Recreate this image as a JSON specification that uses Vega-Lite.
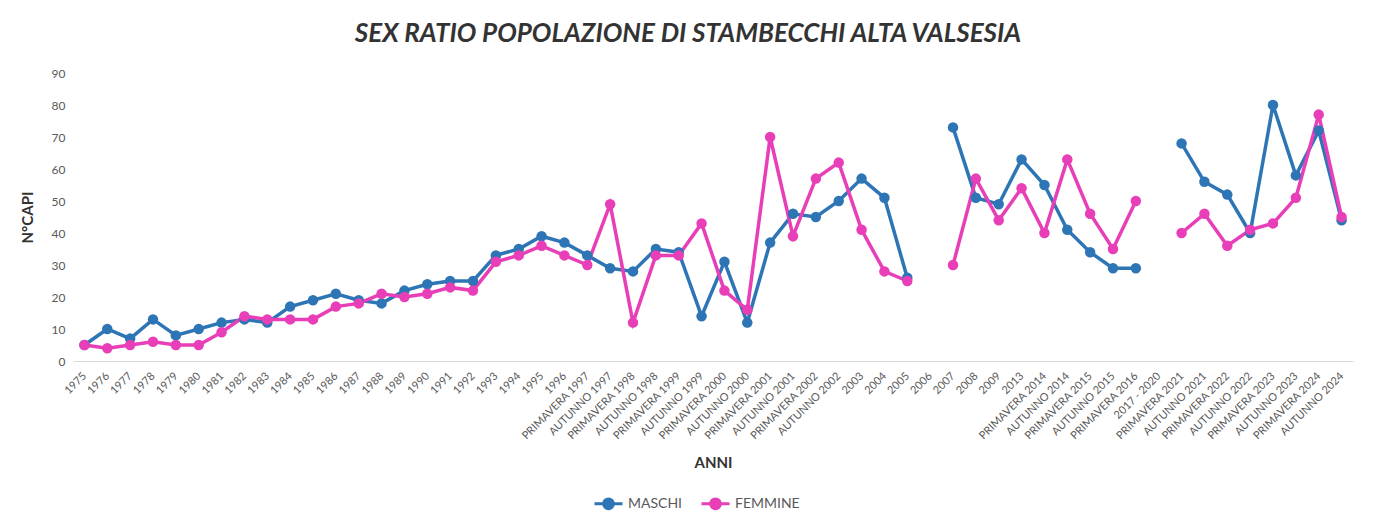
{
  "$schema": "https://vega.github.io/schema/vega-lite/v6.json",
  "width": 1280,
  "height": 288,
  "autosize": {"type": "none"},
  "padding": {"left": 73, "top": 73, "right": 20, "bottom": 157},
  "background": "white",
  "config": {"view": {"stroke": null}, "font": "Lato"},
  "title": {
    "text": "SEX RATIO POPOLAZIONE DI STAMBECCHI ALTA VALSESIA",
    "fontSize": 26,
    "font": "Lato",
    "fontWeight": "bold",
    "fontStyle": "italic",
    "color": "#333333",
    "anchor": "middle",
    "dx": -25,
    "offset": 20
  },
  "datasets": {
    "capi": [
      {"anno": "1975", "serie": "MASCHI", "capi": 5},
      {"anno": "1976", "serie": "MASCHI", "capi": 10},
      {"anno": "1977", "serie": "MASCHI", "capi": 7},
      {"anno": "1978", "serie": "MASCHI", "capi": 13},
      {"anno": "1979", "serie": "MASCHI", "capi": 8},
      {"anno": "1980", "serie": "MASCHI", "capi": 10},
      {"anno": "1981", "serie": "MASCHI", "capi": 12},
      {"anno": "1982", "serie": "MASCHI", "capi": 13},
      {"anno": "1983", "serie": "MASCHI", "capi": 12},
      {"anno": "1984", "serie": "MASCHI", "capi": 17},
      {"anno": "1985", "serie": "MASCHI", "capi": 19},
      {"anno": "1986", "serie": "MASCHI", "capi": 21},
      {"anno": "1987", "serie": "MASCHI", "capi": 19},
      {"anno": "1988", "serie": "MASCHI", "capi": 18},
      {"anno": "1989", "serie": "MASCHI", "capi": 22},
      {"anno": "1990", "serie": "MASCHI", "capi": 24},
      {"anno": "1991", "serie": "MASCHI", "capi": 25},
      {"anno": "1992", "serie": "MASCHI", "capi": 25},
      {"anno": "1993", "serie": "MASCHI", "capi": 33},
      {"anno": "1994", "serie": "MASCHI", "capi": 35},
      {"anno": "1995", "serie": "MASCHI", "capi": 39},
      {"anno": "1996", "serie": "MASCHI", "capi": 37},
      {"anno": "PRIMAVERA 1997", "serie": "MASCHI", "capi": 33},
      {"anno": "AUTUNNO 1997", "serie": "MASCHI", "capi": 29},
      {"anno": "PRIMAVERA 1998", "serie": "MASCHI", "capi": 28},
      {"anno": "AUTUNNO 1998", "serie": "MASCHI", "capi": 35},
      {"anno": "PRIMAVERA 1999", "serie": "MASCHI", "capi": 34},
      {"anno": "AUTUNNO 1999", "serie": "MASCHI", "capi": 14},
      {"anno": "PRIMAVERA 2000", "serie": "MASCHI", "capi": 31},
      {"anno": "AUTUNNO 2000", "serie": "MASCHI", "capi": 12},
      {"anno": "PRIMAVERA 2001", "serie": "MASCHI", "capi": 37},
      {"anno": "AUTUNNO 2001", "serie": "MASCHI", "capi": 46},
      {"anno": "PRIMAVERA 2002", "serie": "MASCHI", "capi": 45},
      {"anno": "AUTUNNO 2002", "serie": "MASCHI", "capi": 50},
      {"anno": "2003", "serie": "MASCHI", "capi": 57},
      {"anno": "2004", "serie": "MASCHI", "capi": 51},
      {"anno": "2005", "serie": "MASCHI", "capi": 26},
      {"anno": "2006", "serie": "MASCHI", "capi": null},
      {"anno": "2007", "serie": "MASCHI", "capi": 73},
      {"anno": "2008", "serie": "MASCHI", "capi": 51},
      {"anno": "2009", "serie": "MASCHI", "capi": 49},
      {"anno": "2013", "serie": "MASCHI", "capi": 63},
      {"anno": "PRIMAVERA 2014", "serie": "MASCHI", "capi": 55},
      {"anno": "AUTUNNO 2014", "serie": "MASCHI", "capi": 41},
      {"anno": "PRIMAVERA 2015", "serie": "MASCHI", "capi": 34},
      {"anno": "AUTUNNO 2015", "serie": "MASCHI", "capi": 29},
      {"anno": "PRIMAVERA 2016", "serie": "MASCHI", "capi": 29},
      {"anno": "2017 - 2020", "serie": "MASCHI", "capi": null},
      {"anno": "PRIMAVERA 2021", "serie": "MASCHI", "capi": 68},
      {"anno": "AUTUNNO 2021", "serie": "MASCHI", "capi": 56},
      {"anno": "PRIMAVERA 2022", "serie": "MASCHI", "capi": 52},
      {"anno": "AUTUNNO 2022", "serie": "MASCHI", "capi": 40},
      {"anno": "PRIMAVERA 2023", "serie": "MASCHI", "capi": 80},
      {"anno": "AUTUNNO 2023", "serie": "MASCHI", "capi": 58},
      {"anno": "PRIMAVERA 2024", "serie": "MASCHI", "capi": 72},
      {"anno": "AUTUNNO 2024", "serie": "MASCHI", "capi": 44},
      {"anno": "1975", "serie": "FEMMINE", "capi": 5},
      {"anno": "1976", "serie": "FEMMINE", "capi": 4},
      {"anno": "1977", "serie": "FEMMINE", "capi": 5},
      {"anno": "1978", "serie": "FEMMINE", "capi": 6},
      {"anno": "1979", "serie": "FEMMINE", "capi": 5},
      {"anno": "1980", "serie": "FEMMINE", "capi": 5},
      {"anno": "1981", "serie": "FEMMINE", "capi": 9},
      {"anno": "1982", "serie": "FEMMINE", "capi": 14},
      {"anno": "1983", "serie": "FEMMINE", "capi": 13},
      {"anno": "1984", "serie": "FEMMINE", "capi": 13},
      {"anno": "1985", "serie": "FEMMINE", "capi": 13},
      {"anno": "1986", "serie": "FEMMINE", "capi": 17},
      {"anno": "1987", "serie": "FEMMINE", "capi": 18},
      {"anno": "1988", "serie": "FEMMINE", "capi": 21},
      {"anno": "1989", "serie": "FEMMINE", "capi": 20},
      {"anno": "1990", "serie": "FEMMINE", "capi": 21},
      {"anno": "1991", "serie": "FEMMINE", "capi": 23},
      {"anno": "1992", "serie": "FEMMINE", "capi": 22},
      {"anno": "1993", "serie": "FEMMINE", "capi": 31},
      {"anno": "1994", "serie": "FEMMINE", "capi": 33},
      {"anno": "1995", "serie": "FEMMINE", "capi": 36},
      {"anno": "1996", "serie": "FEMMINE", "capi": 33},
      {"anno": "PRIMAVERA 1997", "serie": "FEMMINE", "capi": 30},
      {"anno": "AUTUNNO 1997", "serie": "FEMMINE", "capi": 49},
      {"anno": "PRIMAVERA 1998", "serie": "FEMMINE", "capi": 12},
      {"anno": "AUTUNNO 1998", "serie": "FEMMINE", "capi": 33},
      {"anno": "PRIMAVERA 1999", "serie": "FEMMINE", "capi": 33},
      {"anno": "AUTUNNO 1999", "serie": "FEMMINE", "capi": 43},
      {"anno": "PRIMAVERA 2000", "serie": "FEMMINE", "capi": 22},
      {"anno": "AUTUNNO 2000", "serie": "FEMMINE", "capi": 16},
      {"anno": "PRIMAVERA 2001", "serie": "FEMMINE", "capi": 70},
      {"anno": "AUTUNNO 2001", "serie": "FEMMINE", "capi": 39},
      {"anno": "PRIMAVERA 2002", "serie": "FEMMINE", "capi": 57},
      {"anno": "AUTUNNO 2002", "serie": "FEMMINE", "capi": 62},
      {"anno": "2003", "serie": "FEMMINE", "capi": 41},
      {"anno": "2004", "serie": "FEMMINE", "capi": 28},
      {"anno": "2005", "serie": "FEMMINE", "capi": 25},
      {"anno": "2006", "serie": "FEMMINE", "capi": null},
      {"anno": "2007", "serie": "FEMMINE", "capi": 30},
      {"anno": "2008", "serie": "FEMMINE", "capi": 57},
      {"anno": "2009", "serie": "FEMMINE", "capi": 44},
      {"anno": "2013", "serie": "FEMMINE", "capi": 54},
      {"anno": "PRIMAVERA 2014", "serie": "FEMMINE", "capi": 40},
      {"anno": "AUTUNNO 2014", "serie": "FEMMINE", "capi": 63},
      {"anno": "PRIMAVERA 2015", "serie": "FEMMINE", "capi": 46},
      {"anno": "AUTUNNO 2015", "serie": "FEMMINE", "capi": 35},
      {"anno": "PRIMAVERA 2016", "serie": "FEMMINE", "capi": 50},
      {"anno": "2017 - 2020", "serie": "FEMMINE", "capi": null},
      {"anno": "PRIMAVERA 2021", "serie": "FEMMINE", "capi": 40},
      {"anno": "AUTUNNO 2021", "serie": "FEMMINE", "capi": 46},
      {"anno": "PRIMAVERA 2022", "serie": "FEMMINE", "capi": 36},
      {"anno": "AUTUNNO 2022", "serie": "FEMMINE", "capi": 41},
      {"anno": "PRIMAVERA 2023", "serie": "FEMMINE", "capi": 43},
      {"anno": "AUTUNNO 2023", "serie": "FEMMINE", "capi": 51},
      {"anno": "PRIMAVERA 2024", "serie": "FEMMINE", "capi": 77},
      {"anno": "AUTUNNO 2024", "serie": "FEMMINE", "capi": 45}
    ]
  },
  "data": {"name": "capi"},
  "encoding": {
    "x": {
      "field": "anno",
      "type": "ordinal",
      "sort": null,
      "scale": {
        "padding": 0.5,
        "domain": ["1975","1976","1977","1978","1979","1980","1981","1982","1983","1984","1985","1986","1987","1988","1989","1990","1991","1992","1993","1994","1995","1996","PRIMAVERA 1997","AUTUNNO 1997","PRIMAVERA 1998","AUTUNNO 1998","PRIMAVERA 1999","AUTUNNO 1999","PRIMAVERA 2000","AUTUNNO 2000","PRIMAVERA 2001","AUTUNNO 2001","PRIMAVERA 2002","AUTUNNO 2002","2003","2004","2005","2006","2007","2008","2009","2013","PRIMAVERA 2014","AUTUNNO 2014","PRIMAVERA 2015","AUTUNNO 2015","PRIMAVERA 2016","2017 - 2020","PRIMAVERA 2021","AUTUNNO 2021","PRIMAVERA 2022","AUTUNNO 2022","PRIMAVERA 2023","AUTUNNO 2023","PRIMAVERA 2024","AUTUNNO 2024"]
      },
      "axis": {
        "title": "ANNI",
        "titleFont": "Lato",
        "titleFontSize": 15,
        "titleFontWeight": "bold",
        "titleColor": "#333333",
        "titlePadding": 14,
        "labelAngle": -45,
        "labelAlign": "right",
        "labelBaseline": "middle",
        "labelFont": "Lato",
        "labelFontSize": 11,
        "labelColor": "#595959",
        "labelPadding": 13,
        "labelOverlap": false,
        "ticks": false,
        "domainColor": "#D9D9D9",
        "domainWidth": 1,
        "grid": false
      }
    },
    "y": {
      "field": "capi",
      "type": "quantitative",
      "scale": {"domain": [0, 90], "nice": false},
      "axis": {
        "title": "N°CAPI",
        "titleFont": "Lato",
        "titleFontSize": 15,
        "titleFontWeight": "bold",
        "titleColor": "#333333",
        "titlePadding": 16,
        "values": [0,10,20,30,40,50,60,70,80,90],
        "labelFont": "Lato",
        "labelFontSize": 12,
        "labelColor": "#595959",
        "labelPadding": 8,
        "ticks": false,
        "domain": false,
        "grid": false
      }
    },
    "color": {
      "field": "serie",
      "type": "nominal",
      "sort": ["MASCHI", "FEMMINE"],
      "scale": {"domain": ["MASCHI", "FEMMINE"], "range": ["#2E75B6", "#E83FB8"]},
      "legend": {
        "title": null,
        "orient": "none",
        "direction": "horizontal",
        "legendX": 520,
        "legendY": 415,
        "symbolType": "M-1,0L1,0M-0.35,0A0.35,0.35 0 1,1 0.35,0A0.35,0.35 0 1,1 -0.35,0Z",
        "symbolSize": 784,
        "symbolStrokeWidth": 3,
        "labelFont": "Lato",
        "labelFontSize": 14,
        "labelColor": "#595959",
        "labelOffset": 4,
        "columnPadding": 12,
        "encode": {
          "symbols": {"update": {"fill": {"scale": "color", "field": "value"}, "stroke": {"scale": "color", "field": "value"}}}
        }
      }
    }
  },
  "layer": [
    {
      "mark": {"type": "line", "strokeWidth": 3.5, "invalid": "break-paths-show-domains"}
    },
    {
      "mark": {"type": "point", "filled": true, "size": 110, "opacity": 1},
      "encoding": {"color": {"field": "serie", "type": "nominal", "legend": null}}
    }
  ]
}
